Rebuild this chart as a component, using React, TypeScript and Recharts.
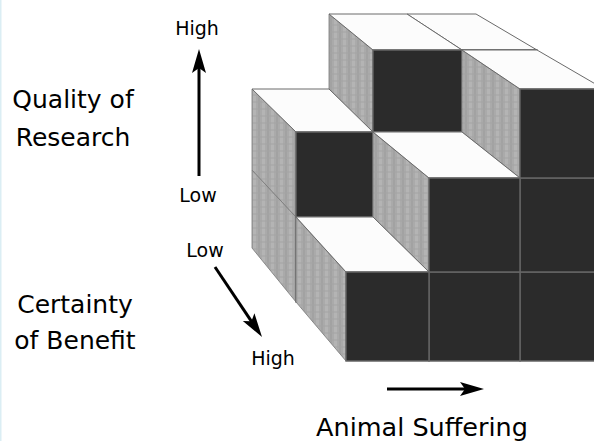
import { ComposedChart, Scatter, XAxis, YAxis, ReferenceArea, Polygon } from "recharts";

const WIDTH = 594;
const HEIGHT = 441;

// number of stacked cubes per column, left to right
const frontHeights = [1, 2, 3];
const backHeights = [2, 3, 3];

// where the cube grid falls on the picture: one row per depth plane (front, middle, back)
const columnLines = [
  [346, 429, 520, 604],
  [296, 373, 462, 537],
  [252, 329, 407, 476],
];
const rowLines = [
  [361, 272, 178, 89],
  [302, 217, 132, 50],
  [248, 170, 89, 14],
];

const textLabels = [
  { x: 197, y: 35, text: "High", size: 19 },
  { x: 198, y: 202, text: "Low", size: 19 },
  { x: 73, y: 108, text: "Quality of", size: 25 },
  { x: 73, y: 146, text: "Research", size: 25 },
  { x: 205, y: 257, text: "Low", size: 19 },
  { x: 273, y: 365, text: "High", size: 19 },
  { x: 75, y: 313, text: "Certainty", size: 25 },
  { x: 75, y: 349, text: "of Benefit", size: 25 },
  { x: 422, y: 436, text: "Animal Suffering", size: 25.5 },
];

const arrows = [
  { x: 199, y: 176, dx: 0, dy: -127 },
  { x: 215, y: 267, dx: 47, dy: 70 },
  { x: 387, y: 389, dx: 97, dy: 0 },
];

const TOP = "#fcfcfc";
const FRONT = "#2b2b2b";
const SIDE = "url(#sideTexture)";

type Face = { x: number; y: number; corners: number[][]; fill: string; stroke: string; strokeWidth: number };

const makeFace = (corners: number[][], fill: string, stroke: string, strokeWidth: number): Face => ({
  x: corners[0][0],
  y: corners[0][1],
  corners,
  fill,
  stroke,
  strokeWidth,
});

// faces of one cube: column i, depth plane d (0 front), row r (0 bottom)
const cubeFaces = (i: number, d: number, r: number, isTop: boolean, showSide: boolean) => {
  const p = (ci: number, cd: number, cr: number) => [columnLines[cd][ci], rowLines[cd][cr]];
  const faces: Face[] = [];
  if (showSide) {
    faces.push(makeFace([p(i, d + 1, r + 1), p(i, d, r + 1), p(i, d, r), p(i, d + 1, r)], SIDE, "#777777", 0.8));
  }
  if (isTop) {
    faces.push(makeFace([p(i, d + 1, r + 1), p(i + 1, d + 1, r + 1), p(i + 1, d, r + 1), p(i, d, r + 1)], TOP, "#6a6a6a", 1));
  }
  faces.push(makeFace([p(i, d, r + 1), p(i + 1, d, r + 1), p(i + 1, d, r), p(i, d, r)], FRONT, "#666666", 1.4));
  return faces;
};

// painter's order: back plane first, right column first
const faces: Face[] = [];
[backHeights, frontHeights].forEach((heights, idx) => {
  const d = idx === 0 ? 1 : 0;
  for (let i = heights.length - 1; i >= 0; i--) {
    for (let r = 0; r < heights[i]; r++) {
      const neighbour = i > 0 ? heights[i - 1] : 0;
      faces.push(...cubeFaces(i, d, r, r === heights[i] - 1, r >= neighbour));
    }
  }
});

const FaceShape = (props: any) => {
  const { cx, cy, payload } = props;
  const ox = cx - payload.x;
  const oy = cy - payload.y;
  const points = payload.corners.map((c: number[]) => ({ x: c[0] + ox, y: c[1] + oy }));
  return <Polygon points={points} fill={payload.fill} stroke={payload.stroke} strokeWidth={payload.strokeWidth} />;
};

const ArrowShape = (props: any) => {
  const { cx, cy, payload } = props;
  const len = Math.hypot(payload.dx, payload.dy);
  const angle = (Math.atan2(payload.dy, payload.dx) * 180) / Math.PI;
  return (
    <g transform={`translate(${cx},${cy}) rotate(${angle})`}>
      <line x1={0} y1={0} x2={len - 18} y2={0} stroke="#000" strokeWidth={3} />
      <path d={`M${len},0 L${len - 24},-7 L${len - 19},0 L${len - 24},7 Z`} fill="#000" />
    </g>
  );
};

const TextShape = (props: any) => {
  const { cx, cy, payload } = props;
  return (
    <text x={cx} y={cy} textAnchor="middle" fontFamily="'DejaVu Sans'" fontSize={payload.size} fill="#000">
      {payload.text}
    </text>
  );
};

export default function App() {
  return (
    <div style={{ position: "absolute", left: 0, top: 0, width: WIDTH, height: HEIGHT, overflow: "hidden", background: "#fff" }}>
      <ComposedChart width={WIDTH} height={HEIGHT} margin={{ left: 0, right: 0, top: 0, bottom: 0 }} data={[]}>
        <defs>
          <pattern id="sideTexture" width="9" height="7" patternUnits="userSpaceOnUse">
            <rect width="9" height="7" fill="#aaaaaa" />
            <rect x="1" width="3" height="7" fill="#b4b4b4" />
            <rect x="6" width="2" height="7" fill="#a2a2a2" />
            <rect y="3" width="9" height="2" fill="#a4a4a4" fillOpacity={0.5} />
          </pattern>
        </defs>
        <XAxis type="number" dataKey="x" domain={[0, WIDTH]} hide />
        <YAxis type="number" dataKey="y" domain={[0, HEIGHT]} hide reversed />
        <ReferenceArea x1={0} x2={1.5} y1={0} y2={HEIGHT} fill="#dbeef4" fillOpacity={1} stroke="none" />
        <Scatter data={faces} shape={FaceShape} isAnimationActive={false} />
        <Scatter data={arrows} shape={ArrowShape} isAnimationActive={false} />
        <Scatter data={textLabels} shape={TextShape} isAnimationActive={false} />
      </ComposedChart>
    </div>
  );
}
